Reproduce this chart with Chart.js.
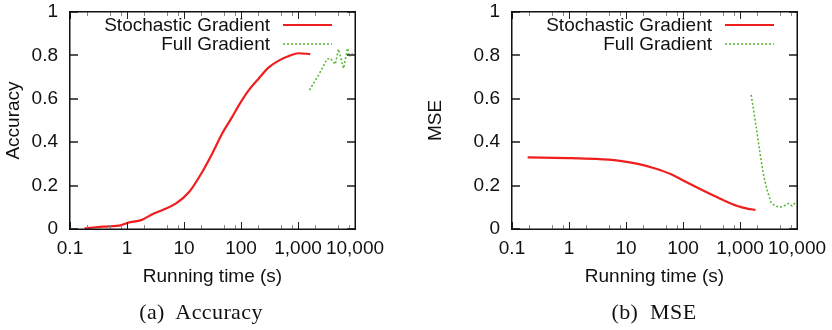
<!DOCTYPE html>
<html>
<head>
<meta charset="utf-8">
<script src="https://cdn.jsdelivr.net/npm/chart.js@4.4.1/dist/chart.umd.min.js"></script>
<style>
  body { margin: 0; background: #fff; }
  .wrap { position: relative; width: 832px; height: 330px; }
  .box { position: absolute; top: 0; height: 330px; width: 416px; }
  .cap { position: absolute; top: 299px; font-family: "Liberation Serif", serif; font-size: 22px; letter-spacing: 0.4px; color: #111; white-space: pre; transform: translateX(-50%); }
</style>
</head>
<body>
<div class="wrap">
  <div class="box" style="left:0"><canvas id="accChart" width="416" height="330"></canvas></div>
  <div class="box" style="left:416px"><canvas id="mseChart" width="416" height="330"></canvas></div>
  <div class="cap" style="left:201px">(a)  Accuracy</div>
  <div class="cap" style="left:654px">(b)  MSE</div>
</div>
<script>
// values
const accTimeSG = [0.18, 0.38, 0.8, 1.04, 1.78, 2.84, 4.24, 7.25, 12.4, 21, 31.5, 47, 70.5, 92, 137, 205, 307, 460, 690, 1030, 1640]
const accSG = [0.003, 0.011, 0.018, 0.029, 0.041, 0.069, 0.088, 0.118, 0.172, 0.264, 0.349, 0.441, 0.518, 0.571, 0.64, 0.694, 0.745, 0.776, 0.797, 0.81, 0.806]
const accTimeFG = [1585, 2307, 3230, 3690, 4510, 5130, 6300, 7400, 7960, 8730, 9400]
const accFG = [0.64, 0.71, 0.783, 0.787, 0.759, 0.829, 0.74, 0.833, 0.794, 0.81, 0.795]

const mseTimeSG = [0.188, 0.97, 2.85, 7.3, 16.2, 31.5, 62, 105, 180, 307, 525, 900, 1340, 1870]
const mseSG = [0.33, 0.327, 0.323, 0.315, 0.3, 0.28, 0.252, 0.221, 0.19, 0.16, 0.131, 0.106, 0.094, 0.088]
const mseTimeFG = [1570, 1750, 2000, 2290, 2620, 2990, 3520, 4190, 4990, 5860, 7160, 8180, 9340]
const mseFG = [0.618, 0.541, 0.441, 0.333, 0.241, 0.18, 0.121, 0.106, 0.1, 0.106, 0.118, 0.106, 0.121]

const seriesNames = ['Stochastic Gradient', 'Full Gradient']
const xTickValues = [0.1, 1, 10, 100, 1000, 10000]
const xTickLabels = ['0.1', '1', '10', '100', '1,000', '10,000']
const xMinorSteps = [2, 5, 8]
const yTickValues = [0, 0.2, 0.4, 0.6, 0.8, 1]
const yTickLabels = ['0', '0.2', '0.4', '0.6', '0.8', '1']

const RED = '#f01e1e'
const GREEN = '#5cb83a'
const FONT = '"Liberation Sans", Arial, sans-serif'

Chart.defaults.font.family = FONT
Chart.defaults.font.size = 19
Chart.defaults.color = '#111'

function pts(xs, ys) {
    return xs.map((x, i) => ({ x: x, y: ys[i] }))
}

// gnuplot-like frame with inward ticks and the legend on the right
const framePlugin = {
    id: 'frame',
    afterDraw(chart) {
        const ctx = chart.ctx
        const xs = chart.scales.x
        const ys = chart.scales.y
        const L = Math.round(xs.left), R = Math.round(xs.right)
        const T = Math.round(ys.top), B = Math.round(ys.bottom)
        ctx.save()
        ctx.setLineDash([])
        // x ticks top and bottom
        ctx.fillStyle = '#888'
        for (let d = 0.1; d < 9999; d *= 10) {
            for (let m of xMinorSteps) {
                let px = Math.round(xs.getPixelForValue(d * m))
                ctx.fillRect(px, B - 4, 1, 4)
                ctx.fillRect(px, T, 1, 4)
            }
        }
        ctx.fillStyle = '#222'
        for (let v of xTickValues) {
            let px = Math.round(xs.getPixelForValue(v))
            ctx.fillRect(px, B - 7, 1, 7)
            ctx.fillRect(px, T, 1, 7)
        }
        // y ticks left and right
        ctx.fillStyle = '#555'
        for (let v of yTickValues) {
            let py = Math.round(ys.getPixelForValue(v))
            ctx.fillRect(L, py - 1, 8, 2)
            ctx.fillRect(R - 8, py - 1, 8, 2)
        }
        // border
        ctx.fillStyle = '#111'
        ctx.fillRect(L - 1, T - 1, R - L + 2, 1.5)
        ctx.fillRect(L - 1, B - 0.5, R - L + 2, 1.5)
        ctx.fillRect(L - 1, T - 1, 1.5, B - T + 2)
        ctx.fillRect(R - 0.5, T - 1, 1.5, B - T + 2)

        // legend
        ctx.font = '19px ' + FONT
        ctx.fillStyle = '#111'
        ctx.textAlign = 'right'
        ctx.textBaseline = 'middle'
        chart.data.datasets.forEach((ds, i) => {
            let ly = T + 13 + i * 19
            ctx.fillText(ds.label, R - 85, ly + 1)
            ctx.strokeStyle = ds.borderColor
            ctx.lineWidth = ds.borderWidth
            ctx.setLineDash(ds.borderDash || [])
            ctx.beginPath()
            ctx.moveTo(R - 72, ly); ctx.lineTo(R - 23, ly)
            ctx.stroke()
            ctx.setLineDash([])
        })
        ctx.restore()
    }
}

function makeChart(id, yTitle, yWidth, rightPad, titlePad, sgX, sgY, fgX, fgY) {
    return new Chart(document.getElementById(id), {
        type: 'line',
        data: {
            datasets: [
                { label: seriesNames[0], data: pts(sgX, sgY), borderColor: RED, borderWidth: 2.2, pointRadius: 0, cubicInterpolationMode: 'monotone' },
                { label: seriesNames[1], data: pts(fgX, fgY), borderColor: GREEN, borderWidth: 1.6, borderDash: [2, 2], pointRadius: 0 }
            ]
        },
        options: {
            responsive: false,
            animation: false,
            layout: { padding: { left: 0, right: rightPad, top: 12, bottom: 0 } },
            plugins: { legend: { display: false }, tooltip: { enabled: false } },
            scales: {
                x: {
                    type: 'logarithmic',
                    min: 0.1,
                    max: 10000,
                    grid: { display: false, drawTicks: false },
                    border: { display: false },
                    afterBuildTicks: (s) => { s.ticks = xTickValues.map(v => ({ value: v })) },
                    afterFit: (s) => { s.height = 101; s.paddingLeft = 0; s.paddingRight = 0 },
                    ticks: {
                        padding: 8,
                        maxRotation: 0,
                        autoSkip: false,
                        callback: (v) => xTickLabels[xTickValues.indexOf(v)]
                    },
                    title: { display: true, text: 'Running time (s)', padding: { top: 0, bottom: 42 } }
                },
                y: {
                    min: 0,
                    max: 1,
                    grid: { display: false, drawTicks: false },
                    border: { display: false },
                    afterBuildTicks: (s) => { s.ticks = yTickValues.map(v => ({ value: v })) },
                    afterFit: (s) => { s.width = yWidth; s.paddingTop = 0; s.paddingBottom = 0 },
                    ticks: {
                        padding: 12,
                        callback: (v) => yTickLabels[yTickValues.indexOf(v)]
                    },
                    title: { display: true, text: yTitle, padding: { top: titlePad, bottom: 0 } }
                }
            }
        },
        plugins: [framePlugin]
    })
}

makeChart('accChart', 'Accuracy', 70, 61, 2, accTimeSG, accSG, accTimeFG, accFG)
makeChart('mseChart', 'MSE', 96, 35, 8, mseTimeSG, mseSG, mseTimeFG, mseFG)
</script>
</body>
</html>
